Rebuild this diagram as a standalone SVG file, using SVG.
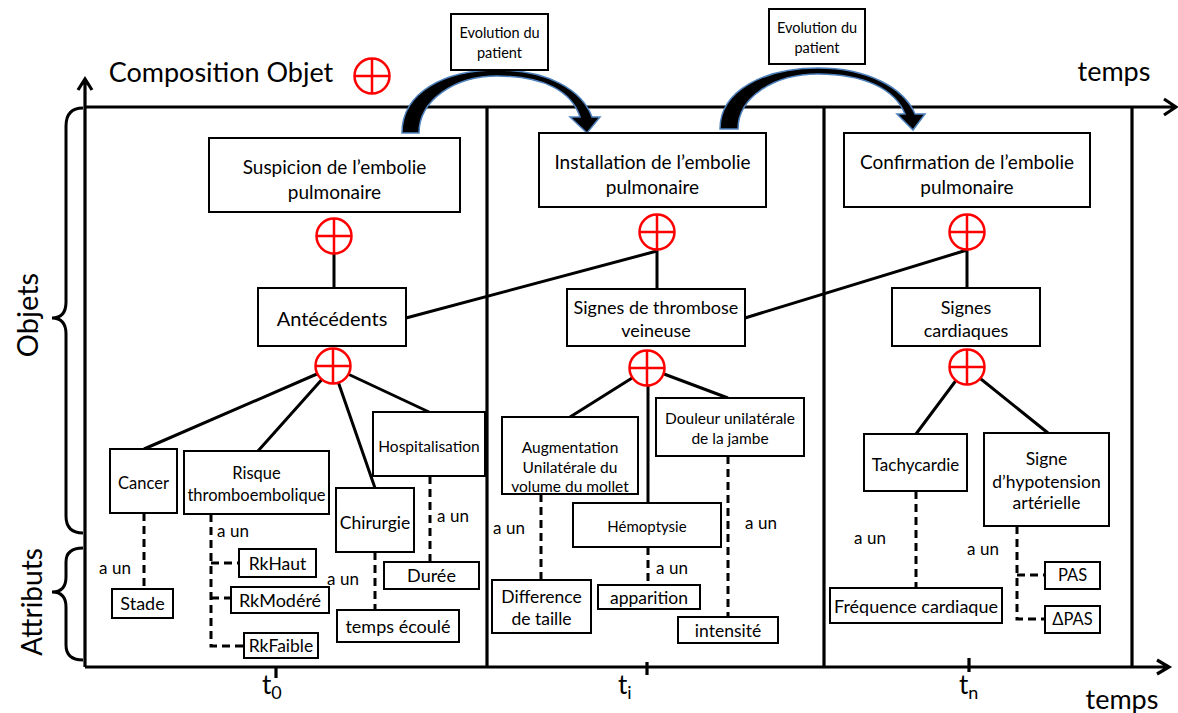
<svg xmlns="http://www.w3.org/2000/svg" width="1178" height="713" viewBox="0 0 1178 713">
<style>
.bx{fill:#fff;stroke:#000;stroke-width:2}
.t{font-family:Lato,"Liberation Sans",sans-serif;fill:#000;text-anchor:middle;dominant-baseline:central}
.ax{stroke:#000;stroke-width:3.2;fill:none}
.ln{stroke:#000;stroke-width:3;fill:none}
.ds{stroke:#000;stroke-width:3;fill:none;stroke-dasharray:8 5}
.arr{fill:#000;stroke:#4f81bd;stroke-width:1.5}
</style>
<defs>
<g id="plus"><circle r="17.5" fill="#fff" stroke="#f00" stroke-width="2.5"/><path d="M-17.5,0H17.5M0,-17.5V17.5" stroke="#f00" stroke-width="2.5"/></g>
</defs>
<rect width="1178" height="713" fill="#fff"/>
<g id="axes">
<path class="ax" d="M85,667V80M78,90L85,79L92,90"/>
<path class="ax" d="M85,107H1176M1164,99L1176,107L1164,115"/>
<path class="ax" d="M85,667H1168M1157,660L1169,667L1157,674"/>
<path class="ax" d="M487,107V667M824,107V667M1132,107V667"/>
<path class="ax" d="M276,667V678M647,662V675M969,658V672"/>
<path class="ln" d="M83,108Q66,108 66,126V302Q66,318 52,318Q66,318 66,334V516Q66,533 83,533"/>
<path class="ln" d="M83,548Q66,548 66,562V577Q66,592 52,592Q66,592 66,607V645Q66,660 83,660"/>
<text class="t" font-size="29" transform="translate(26,315) rotate(-90)">Objets</text>
<text class="t" font-size="28" transform="translate(31,602) rotate(-90)">Attributs</text>
<text class="t" font-size="27" x="221" y="71">Composition Objet</text>
<text class="t" font-size="27" x="1114" y="70">temps</text>
<text class="t" font-size="27" x="1122" y="698">temps</text>
<text font-family="Lato,'Liberation Sans',sans-serif" font-size="26" x="262" y="694">t<tspan font-size="18" dy="5">0</tspan></text>
<text font-family="Lato,'Liberation Sans',sans-serif" font-size="26" x="618" y="694">t<tspan font-size="18" dy="5">i</tspan></text>
<text font-family="Lato,'Liberation Sans',sans-serif" font-size="26" x="959" y="694">t<tspan font-size="18" dy="5">n</tspan></text>
<use href="#plus" x="372" y="76"/>
</g>
<g id="connectors">
<path class="arr" d="M402,133C402,92 445,70 497,70C548,70 582,90 592,117L600,117L587,133L570,117L580,117C572,92 545,76 497,76C455,76 419,100 419,133Z"/>
<path class="arr" d="M720,129C720,90 765,68 818,68C868,68 904,88 915,114L925,114L913,130L897,114L905,114C895,89 864,74 818,74C773,74 738,98 738,129Z"/>
<path class="ln" d="M334,236V288M406,318L657,251M657,232V289M745,318L967,250M967,232V288"/>
<path class="ln" d="M333,367L144,449M333,367L258,451M333,367L375,488M333,367L429,412"/>
<path class="ln" d="M648,368L570,417M648,368V503M648,368L728,398"/>
<path class="ln" d="M966,367L916,434M966,367L1048,433"/>
<path class="ds" d="M144,513V589M211,514V646H244M211,563H239M211,598H231M375,552V610M430,476V562"/>
<path class="ds" d="M541,494V580M648,547V585M728,456V617"/>
<path class="ds" d="M916,491V588M1017,526V619H1045M1017,575H1045"/>
<use href="#plus" x="334" y="236"/>
<use href="#plus" x="333" y="366"/>
<use href="#plus" x="657" y="232"/>
<use href="#plus" x="647" y="368"/>
<use href="#plus" x="967" y="232"/>
<use href="#plus" x="967" y="367"/>
<g font-size="17">
<text class="t" x="115" y="567">a un</text>
<text class="t" x="233" y="530">a un</text>
<text class="t" x="343" y="578">a un</text>
<text class="t" x="453" y="515">a un</text>
<text class="t" x="509" y="527">a un</text>
<text class="t" x="672" y="567">a un</text>
<text class="t" x="761" y="522">a un</text>
<text class="t" x="870" y="537">a un</text>
<text class="t" x="983" y="548">a un</text>
</g>
</g>
<g id="evo1"><rect class="bx" x="451" y="14" width="97" height="56"/><text class="t" font-size="14.5"><tspan x="499.5" y="32">Evolution du</tspan><tspan x="499.5" y="52">patient</tspan></text></g>
<g id="evo2"><rect class="bx" x="769" y="9" width="96" height="55"/><text class="t" font-size="14.5"><tspan x="817" y="27">Evolution du</tspan><tspan x="817" y="47">patient</tspan></text></g>
<g id="suspicion"><rect class="bx" x="209" y="138" width="251" height="74"/><text class="t" font-size="19"><tspan x="334.5" y="166">Suspicion de l’embolie</tspan><tspan x="334.5" y="191">pulmonaire</tspan></text></g>
<g id="installation"><rect class="bx" x="539" y="133" width="227" height="74"/><text class="t" font-size="19"><tspan x="652.5" y="161">Installation de l’embolie</tspan><tspan x="652.5" y="186">pulmonaire</tspan></text></g>
<g id="confirmation"><rect class="bx" x="844" y="133" width="246" height="74"/><text class="t" font-size="19"><tspan x="967" y="161">Confirmation de l’embolie</tspan><tspan x="967" y="186">pulmonaire</tspan></text></g>
<g id="antecedents"><rect class="bx" x="258" y="288" width="148" height="58"/><text class="t" font-size="20" x="332" y="318">Antécédents</text></g>
<g id="thrombose"><rect class="bx" x="567" y="289" width="178" height="57"/><text class="t" font-size="18"><tspan x="656" y="307">Signes de thrombose</tspan><tspan x="656" y="330">veineuse</tspan></text></g>
<g id="cardiaques"><rect class="bx" x="892" y="288" width="148" height="58"/><text class="t" font-size="18"><tspan x="966" y="307">Signes</tspan><tspan x="966" y="330">cardiaques</tspan></text></g>
<g id="cancer"><rect class="bx" x="110" y="449" width="67" height="64"/><text class="t" font-size="16.5" x="143.5" y="483">Cancer</text></g>
<g id="risque"><rect class="bx" x="184" y="451" width="145" height="63"/><text class="t" font-size="16.5"><tspan x="256.5" y="473">Risque</tspan><tspan x="256.5" y="495">thromboembolique</tspan></text></g>
<g id="hospitalisation"><rect class="bx" x="373" y="412" width="112" height="64"/><text class="t" font-size="15.5" x="429" y="446">Hospitalisation</text></g>
<g id="chirurgie"><rect class="bx" x="336" y="488" width="78" height="64"/><text class="t" font-size="17.5" x="375" y="522">Chirurgie</text></g>
<g id="stade"><rect class="bx" x="112" y="589" width="61" height="29"/><text class="t" font-size="18" x="142.5" y="603">Stade</text></g>
<g id="rkhaut"><rect class="bx" x="239" y="549" width="77" height="28"/><text class="t" font-size="17.5" x="277.5" y="563">RkHaut</text></g>
<g id="rkmodere"><rect class="bx" x="231" y="587" width="98" height="26"/><text class="t" font-size="18" x="280" y="600">RkModéré</text></g>
<g id="rkfaible"><rect class="bx" x="244" y="633" width="74" height="25"/><text class="t" font-size="17.5" x="281" y="645">RkFaible</text></g>
<g id="tempsecoule"><rect class="bx" x="337" y="610" width="122" height="32"/><text class="t" font-size="18" x="398" y="626">temps écoulé</text></g>
<g id="duree"><rect class="bx" x="384" y="562" width="95" height="27"/><text class="t" font-size="18" x="431.5" y="575">Durée</text></g>
<g id="augmentation"><rect class="bx" x="502" y="417" width="136" height="77"/><text class="t" font-size="15.5"><tspan x="570" y="447">Augmentation</tspan><tspan x="570" y="467">Unilatérale du</tspan><tspan x="570" y="486">volume du mollet</tspan></text></g>
<g id="hemoptysie"><rect class="bx" x="573" y="503" width="148" height="44"/><text class="t" font-size="15" x="647" y="526">Hémoptysie</text></g>
<g id="douleur"><rect class="bx" x="656" y="398" width="148" height="58"/><text class="t" font-size="15.5"><tspan x="730" y="418">Douleur unilatérale</tspan><tspan x="730" y="438">de la jambe</tspan></text></g>
<g id="difference"><rect class="bx" x="492" y="580" width="99" height="53"/><text class="t" font-size="17.5"><tspan x="541.5" y="596">Difference</tspan><tspan x="541.5" y="618">de taille</tspan></text></g>
<g id="apparition"><rect class="bx" x="598" y="585" width="102" height="24"/><text class="t" font-size="17.5" x="649" y="597">apparition</text></g>
<g id="intensite"><rect class="bx" x="678" y="617" width="100" height="26"/><text class="t" font-size="17.5" x="728" y="630">intensité</text></g>
<g id="tachycardie"><rect class="bx" x="864" y="434" width="103" height="57"/><text class="t" font-size="17" x="915.5" y="464">Tachycardie</text></g>
<g id="hypotension"><rect class="bx" x="984" y="433" width="125" height="93"/><text class="t" font-size="17.5"><tspan x="1046.5" y="458">Signe</tspan><tspan x="1046.5" y="481">d’hypotension</tspan><tspan x="1046.5" y="502">artérielle</tspan></text></g>
<g id="frequence"><rect class="bx" x="830" y="588" width="172" height="35"/><text class="t" font-size="18" x="916" y="606">Fréquence cardiaque</text></g>
<g id="pas"><rect class="bx" x="1045" y="562" width="55" height="27"/><text class="t" font-size="16.5" x="1072.5" y="575">PAS</text></g>
<g id="dpas"><rect class="bx" x="1045" y="606" width="55" height="27"/><text class="t" font-size="16.5" x="1072.5" y="619">ΔPAS</text></g>
</svg>
